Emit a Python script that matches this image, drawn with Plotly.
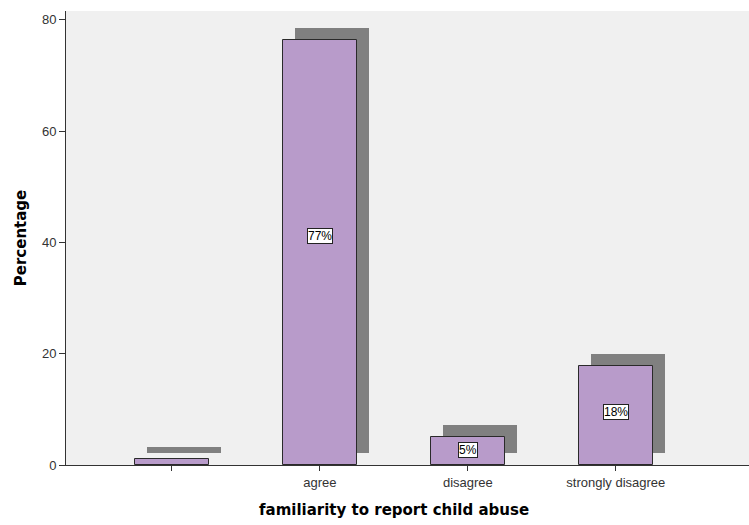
import plotly.graph_objects as go

categories = ["", "agree", "disagree", "strongly disagree"]
percentages = [1.1, 76.3, 5.0, 17.8]
labels = ["", "77%", "5%", "18%"]

x = list(range(len(categories)))
BAR_W = 0.5
SHADOW_DX = 0.081
SHADOW_DY = 2.16
BAR_COLOR = "#B89BCA"
SHADOW_COLOR = "#808080"

fig = go.Figure()
fig.add_trace(go.Bar(
    x=x, y=percentages, base=[SHADOW_DY] * len(x), width=BAR_W,
    offset=-BAR_W / 2 + SHADOW_DX, marker=dict(color=SHADOW_COLOR, line=dict(width=0)),
    hoverinfo="skip", showlegend=False))
fig.add_trace(go.Bar(
    x=x, y=percentages, width=BAR_W, offset=-BAR_W / 2,
    marker=dict(color=BAR_COLOR, line=dict(color="#2a2a2a", width=1)),
    showlegend=False))

for xi, v, lab in zip(x, percentages, labels):
    if lab:
        fig.add_annotation(x=xi, y=v * 0.54, text=lab, showarrow=False,
                           font=dict(family="Liberation Sans, Arial", size=12, color="black"),
                           bgcolor="white", bordercolor="#222", borderwidth=1, borderpad=0)

fig.add_annotation(x=0.48, y=-0.1, xref="paper", yref="paper",
                   text="<b>familiarity to report child abuse</b>", showarrow=False,
                   font=dict(family="DejaVu Sans", size=15, color="black"),
                   xanchor="center", yanchor="middle")

fig.update_layout(
    width=749, height=525,
    margin=dict(l=66, r=0, t=11, b=60),
    paper_bgcolor="white", plot_bgcolor="#F0F0F0",
    barmode="overlay", bargap=0,
    xaxis=dict(range=[-0.716, 3.9], tickvals=x, ticktext=categories,
               showgrid=False, zeroline=False, showline=True, linecolor="#333", linewidth=1,
               ticks="outside", ticklen=5, tickcolor="#333",
               tickfont=dict(family="Liberation Sans, Arial", size=13, color="#333")),
    yaxis=dict(range=[0, 81.6], tickvals=[0, 20, 40, 60, 80],
               showgrid=False, zeroline=False, showline=True, linecolor="#333", linewidth=1,
               ticks="outside", ticklen=6, tickcolor="#333",
               tickfont=dict(family="Liberation Sans, Arial", size=13, color="#333"),
               title=dict(text="<b>Percentage</b>", standoff=11,
                          font=dict(family="DejaVu Sans", size=15, color="black"))),
)

fig.write_html("out.html")
